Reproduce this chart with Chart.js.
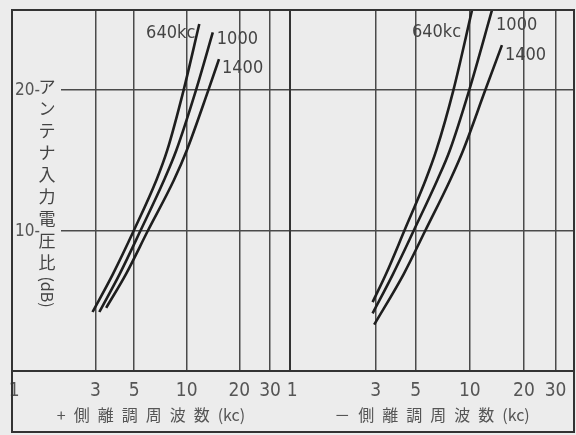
<!DOCTYPE html>
<html lang="ja">
<head>
<meta charset="UTF-8">
<title>アンテナ入力電圧比</title>
<script src="https://cdn.jsdelivr.net/npm/chart.js"></script>
<style>
  body { margin: 0; background: #ececec; }
  #wrap { position: relative; width: 576px; height: 435px; }
  canvas { position: absolute; top: 0; }
  #leftChart { left: 0; }
  #rightChart { left: 288px; }
  #frame { position: absolute; left: 11px; top: 9px; width: 564px; height: 424px;
           border: 2px solid #333; box-sizing: border-box; pointer-events: none; }
</style>
</head>
<body>
<div id="wrap">
  <canvas id="leftChart" width="292" height="435"></canvas>
  <canvas id="rightChart" width="288" height="435"></canvas>
  <div id="frame"></div>
</div>
<script>
// axis ticks
const xTicks = [1, 3, 5, 10, 20, 30];
const yTicks = [0, 10, 20];
const curveNames = ['640kc', '1000', '1400'];
const yTitle = 'アンテナ入力電圧比';
const yUnit = '(dB)';
const plusTitle = '+\u2002側\u2002離\u2002調\u2002周\u2002波\u2002数\u2002(kc)';
const minusTitle = '－\u2002側\u2002離\u2002調\u2002周\u2002波\u2002数\u2002(kc)';

// + side detuning (kc) vs antenna input ratio (dB)
const plusKc640 = [2.89, 3.78, 4.98, 6.71, 7.73, 9.6, 11.8];
const plusDb640 = [4.2, 6.9, 10, 13.6, 15.7, 20, 24.7];
const plusKc1000 = [3.16, 4.13, 5.44, 7.42, 8.71, 11.3, 14.1];
const plusDb1000 = [4.2, 6.9, 10, 13.6, 15.7, 20, 24.1];
const plusKc1400 = [3.46, 4.49, 6.0, 8.45, 10.0, 13.3, 15.3];
const plusDb1400 = [4.5, 6.9, 10, 13.6, 15.7, 20, 22.2];

// - side
const minusKc640 = [2.88, 3.42, 4.33, 5.68, 6.51, 8.11, 10.3];
const minusDb640 = [4.9, 6.9, 10, 13.6, 15.7, 20, 25.7];
const minusKc1000 = [2.88, 3.74, 4.88, 6.6, 7.74, 9.93, 13.3];
const minusDb1000 = [4.1, 6.9, 10, 13.6, 15.7, 20, 25.7];
const minusKc1400 = [2.94, 4.29, 5.66, 7.78, 9.18, 12.2, 15.1];
const minusDb1400 = [3.3, 6.9, 10, 13.6, 15.7, 20, 23.2];

const paper = '#ececec';
const narrow = "'Liberation Sans Narrow', 'DejaVu Sans Condensed', sans-serif";
const jp = "'Noto Sans CJK JP', sans-serif";

function pairs(xs, ys) {
  return xs.map((x, i) => ({ x: x, y: ys[i] }));
}

// curve name next to the top end of each line
const curveLabelPlugin = {
  id: 'curveLabels',
  afterDatasetsDraw(chart, args, opts) {
    const ctx = chart.ctx;
    ctx.save();
    ctx.font = opts.font;
    ctx.fillStyle = opts.color;
    ctx.textBaseline = 'middle';
    chart.data.datasets.forEach((ds, i) => {
      const pts = chart.getDatasetMeta(i).data;
      const last = pts[pts.length - 1];
      const o = opts.offsets[i];
      ctx.textAlign = o.align;
      ctx.fillText(ds.label, last.x + o.dx, last.y + o.dy);
    });
    ctx.restore();
  }
};

// y tick labels "20-" and the vertical japanese title, on a paper patch over the grid
const yTitlePlugin = {
  id: 'yTitle',
  beforeDatasetsDraw(chart) {
    const ctx = chart.ctx;
    const left = chart.chartArea.left;
    const ys = chart.scales.y;
    const x = left + 35;
    ctx.save();
    ctx.fillStyle = paper;
    ctx.fillRect(left + 1, 74, 48, 244);
    ctx.fillStyle = '#555';
    ctx.font = '17px ' + narrow;
    ctx.textAlign = 'left';
    ctx.textBaseline = 'middle';
    yTicks.filter(v => v > 0).forEach(v => {
      ctx.fillText(v + '-', left + 3, ys.getPixelForValue(v) + 1);
    });
    ctx.fillStyle = '#444';
    ctx.font = '17px ' + jp;
    ctx.textAlign = 'center';
    Array.from(yTitle).forEach((c, i) => ctx.fillText(c, x, 87 + i * 22));
    ctx.translate(x, 292);
    ctx.rotate(Math.PI / 2);
    ctx.font = '16px ' + jp;
    ctx.fillText(yUnit, 0, 0);
    ctx.restore();
  }
};

function makeChart(id, kcs, dbs, o) {
  const datasets = curveNames.map((name, i) => ({
    label: name,
    data: pairs(kcs[i], dbs[i]),
    borderColor: '#1e1e1e',
    borderWidth: 2.6,
    pointRadius: 0,
    cubicInterpolationMode: 'monotone',
    fill: false
  }));
  const plugins = [curveLabelPlugin];
  if (o.yTitle) plugins.push(yTitlePlugin);
  return new Chart(document.getElementById(id), {
    type: 'line',
    data: { datasets: datasets },
    plugins: plugins,
    options: {
      responsive: false,
      animation: false,
      layout: { padding: o.padding },
      plugins: {
        legend: { display: false },
        tooltip: { enabled: false },
        curveLabels: { font: '18px ' + narrow, color: '#444', offsets: o.offsets }
      },
      scales: {
        x: {
          type: 'logarithmic',
          min: 1,
          max: o.xMax,
          afterBuildTicks: s => { s.ticks = xTicks.map(v => ({ value: v })); },
          afterFit: s => { s.height = 61; s.paddingLeft = 0; s.paddingRight = 0; },
          grid: { color: '#4a4a4a', lineWidth: 1.5, drawTicks: false },
          border: { color: '#333', width: 2 },
          ticks: {
            color: '#555',
            font: { family: narrow, size: 19 },
            padding: 9,
            maxRotation: 0,
            autoSkip: false,
            // the "1" sits just right of the frame line
            callback: v => (v === 1 ? '\u20051' : String(v))
          },
          title: {
            display: true,
            text: o.title,
            color: '#555',
            font: { family: jp, size: 16 },
            padding: { top: 0, bottom: 7 }
          }
        },
        y: {
          min: 0,
          max: 25.7,
          afterBuildTicks: s => { s.ticks = yTicks.map(v => ({ value: v })); },
          afterFit: s => { s.width = 0; s.paddingTop = 0; s.paddingBottom = 0; },
          grid: { color: '#4a4a4a', lineWidth: 1.5, drawTicks: false },
          border: { color: '#333', width: 2 },
          ticks: { display: false }
        }
      }
    }
  });
}

makeChart('leftChart',
  [plusKc640, plusKc1000, plusKc1400],
  [plusDb640, plusDb1000, plusDb1400],
  {
    xMax: 39, title: plusTitle, yTitle: true,
    padding: { left: 12, right: 2, top: 10, bottom: 3 },
    offsets: [
      { dx: -4, dy: 9, align: 'right' },
      { dx: 4, dy: 7, align: 'left' },
      { dx: 3, dy: 9, align: 'left' }
    ]
  });

makeChart('rightChart',
  [minusKc640, minusKc1000, minusKc1400],
  [minusDb640, minusDb1000, minusDb1400],
  {
    xMax: 38, title: minusTitle, yTitle: false,
    padding: { left: 2, right: 2, top: 10, bottom: 3 },
    offsets: [
      { dx: -11, dy: 22, align: 'right' },
      { dx: 4, dy: 15, align: 'left' },
      { dx: 3, dy: 10, align: 'left' }
    ]
  });
</script>
</body>
</html>
